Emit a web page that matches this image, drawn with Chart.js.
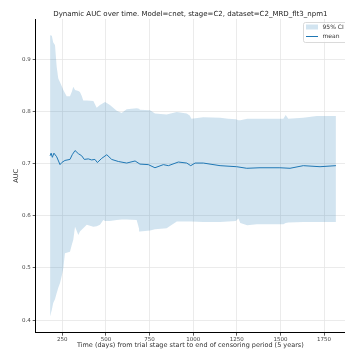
<!DOCTYPE html>
<html>
<head>
<meta charset="utf-8">
<script src="https://cdn.jsdelivr.net/npm/chart.js@4"></script>
<style>
  html, body { margin: 0; padding: 0; background: #fff; }
  canvas { display: block; }
</style>
</head>
<body>
<canvas id="aucChart" width="345" height="352"></canvas>
<script>
// days since trial stage start, 95% CI band
const bandDays = [180, 190, 198, 208, 218, 227, 237, 247, 256, 265, 275, 294, 305, 313, 323, 342, 351, 361, 370, 390,
    428, 447, 466, 485, 495, 523, 562, 590, 619, 676, 690, 695, 753, 781, 848, 906, 963, 980, 990, 1058,
    1154, 1200, 1245, 1259, 1270, 1310, 1364, 1517, 1530, 1545, 1631, 1708, 1818];
const ciUpper = [0.946, 0.945, 0.932, 0.927, 0.885, 0.863, 0.856, 0.848, 0.841, 0.835, 0.829, 0.829, 0.838, 0.847, 0.841, 0.839, 0.837, 0.830, 0.821, 0.821,
    0.820, 0.807, 0.812, 0.816, 0.818, 0.812, 0.801, 0.797, 0.804, 0.806, 0.805, 0.803, 0.802, 0.796, 0.794, 0.799, 0.796, 0.792, 0.786, 0.789,
    0.788, 0.786, 0.785, 0.783, 0.783, 0.786, 0.786, 0.786, 0.793, 0.786, 0.788, 0.791, 0.791];
const ciLower = [0.407, 0.420, 0.433, 0.440, 0.452, 0.462, 0.471, 0.485, 0.500, 0.528, 0.529, 0.531, 0.545, 0.554, 0.579, 0.563, 0.570, 0.573, 0.576, 0.583,
    0.579, 0.580, 0.583, 0.592, 0.590, 0.590, 0.592, 0.593, 0.593, 0.592, 0.575, 0.570, 0.572, 0.574, 0.576, 0.589, 0.589, 0.589, 0.589, 0.588,
    0.588, 0.589, 0.590, 0.595, 0.586, 0.582, 0.584, 0.584, 0.586, 0.587, 0.588, 0.588, 0.588];

// mean AUC
const meanDays = [180, 186, 193, 202, 218, 237, 247, 265, 294, 307, 323, 342, 361, 376, 399, 418, 437, 451, 476, 505,
    533, 571, 619, 667, 695, 743, 781, 829, 858, 915, 963, 986, 1011, 1058, 1154, 1249, 1307, 1383, 1497, 1555,
    1631, 1727, 1818];
const meanAuc = [0.715, 0.720, 0.712, 0.720, 0.713, 0.698, 0.702, 0.706, 0.708, 0.717, 0.725, 0.719, 0.715, 0.708, 0.709, 0.707, 0.708, 0.702, 0.710, 0.717,
    0.708, 0.704, 0.701, 0.705, 0.699, 0.698, 0.692, 0.698, 0.696, 0.703, 0.701, 0.696, 0.701, 0.701, 0.696, 0.694, 0.691, 0.692, 0.692, 0.691,
    0.696, 0.694, 0.696];

const xTicks = [250, 500, 750, 1000, 1250, 1500, 1750];
const yTicks = [0.4, 0.5, 0.6, 0.7, 0.8, 0.9];

const FONT = "'DejaVu Sans', sans-serif";
const BLUE = '#1f77b4';
const BAND = 'rgba(31, 119, 180, 0.2)';

const pts = (xs, ys) => xs.map((x, i) => ({ x: x, y: ys[i] }));

// matplotlib-style legend box inside the axes
const legendBox = {
    id: 'legendBox',
    afterDraw(chart) {
        const ctx = chart.ctx;
        const x = 303, y = 22, w = 50, h = 20;
        ctx.save();
        ctx.fillStyle = 'rgba(255,255,255,0.85)';
        ctx.strokeStyle = '#d0d0d0';
        ctx.lineWidth = 0.8;
        ctx.beginPath();
        ctx.roundRect(x + 0.5, y + 0.5, w, h, 2);
        ctx.fill();
        ctx.stroke();

        ctx.fillStyle = BAND;
        ctx.fillRect(306, 24.5, 12, 5);

        ctx.strokeStyle = BLUE;
        ctx.lineWidth = 1;
        ctx.beginPath();
        ctx.moveTo(306, 36.5);
        ctx.lineTo(318, 36.5);
        ctx.stroke();

        ctx.fillStyle = '#333';
        ctx.font = "6px " + FONT;
        ctx.textBaseline = 'middle';
        ctx.fillText('95% CI', 322.5, 27.5);
        ctx.fillText('mean', 322.5, 36.8);
        ctx.restore();
    }
};

new Chart(document.getElementById('aucChart'), {
    type: 'line',
    data: {
        datasets: [
            {
                label: 'mean',
                data: pts(meanDays, meanAuc),
                borderColor: BLUE,
                borderWidth: 1,
                pointRadius: 0,
                fill: false,
                tension: 0
            },
            {
                label: '95% CI',
                data: pts(bandDays, ciUpper),
                borderWidth: 0,
                borderColor: 'rgba(0,0,0,0)',
                backgroundColor: BAND,
                pointRadius: 0,
                fill: 2,
                tension: 0
            },
            {
                label: 'lower',
                data: pts(bandDays, ciLower),
                borderWidth: 0,
                borderColor: 'rgba(0,0,0,0)',
                pointRadius: 0,
                fill: false,
                tension: 0
            }
        ]
    },
    options: {
        responsive: false,
        animation: false,
        devicePixelRatio: 1,
        layout: { padding: 0 },
        plugins: {
            legend: { display: false },
            tooltip: { enabled: false },
            title: {
                display: true,
                text: 'Dynamic AUC over time. Model=cnet, stage=C2, dataset=C2_MRD_flt3_npm1',
                fullSize: false,
                color: '#222',
                font: { family: FONT, size: 7, weight: 'normal' },
                padding: { top: 10, bottom: 0.6 }
            }
        },
        scales: {
            x: {
                type: 'linear',
                min: 97.6,
                max: 1870,
                afterBuildTicks: s => { s.ticks = xTicks.map(v => ({ value: v })); },
                afterFit: s => { s.height = 19.3; },
                grid: { color: '#e6e6e6', lineWidth: 0.8, tickColor: '#333', tickLength: 3 },
                border: { display: true, color: '#000', width: 1 },
                ticks: { color: '#444', padding: 1, maxRotation: 0, font: { family: FONT, size: 5.5 }, callback: v => String(v) },
                title: {
                    display: true,
                    text: 'Time (days) from trial stage start to end of censoring period (5 years)',
                    color: '#333',
                    font: { family: FONT, size: 6.5 },
                    padding: { top: 0, bottom: 3.1 }
                }
            },
            y: {
                min: 0.376,
                max: 0.977,
                afterBuildTicks: s => { s.ticks = yTicks.map(v => ({ value: v })); },
                afterFit: s => { s.width = 35.7; },
                grid: { color: '#e6e6e6', lineWidth: 0.8, tickColor: '#333', tickLength: 3 },
                border: { display: true, color: '#000', width: 1 },
                ticks: { color: '#444', padding: 2, font: { family: FONT, size: 5.5 }, callback: v => v.toFixed(1) },
                title: {
                    display: true,
                    text: 'AUC',
                    color: '#333',
                    font: { family: FONT, size: 6.5 },
                    padding: { top: 12.8, bottom: 0 }
                }
            }
        }
    },
    plugins: [legendBox]
});
</script>
</body>
</html>
